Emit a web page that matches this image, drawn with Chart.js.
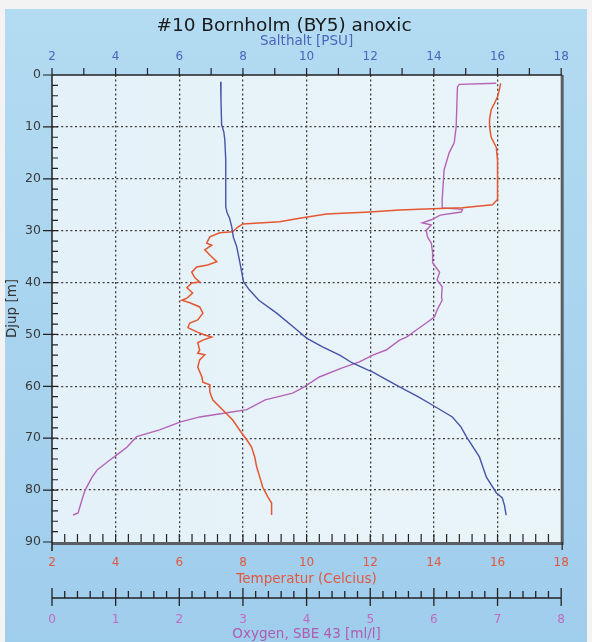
<!DOCTYPE html>
<html>
<head>
<meta charset="utf-8">
<script src="https://cdn.jsdelivr.net/npm/chart.js@4"></script>
<style>
html,body{margin:0;padding:0;background:#f3f3f3;}
#wrap{width:592px;height:642px;position:relative;}
</style>
</head>
<body>
<div id="wrap"><canvas id="c" width="592" height="642"></canvas></div>
<script>
// ---- data (depth in m) ----
const chartTitle = '#10 Bornholm (BY5) anoxic';
const salinityTicks = [2,4,6,8,10,12,14,16,18];
const temperatureTicks = [2,4,6,8,10,12,14,16,18];
const oxygenTicks = [0,1,2,3,4,5,6,7,8];
const depthTicks = [0,10,20,30,40,50,60,70,80,90];

const salDepth = [1.3,5,9.6,11,12.5,16.4,22,25.4,26.5,27.6,29.3,31.3,33,36,39.9,41.4,43.4,45.9,49.1,50.7,52.4,54,55.5,56.8,57.2,58.5,60.1,62,63.6,65.9,67.8,69.7,73.6,77.5,80.5,81.5,83,84.8];
const salValue = [7.30,7.31,7.33,7.40,7.43,7.46,7.46,7.46,7.50,7.58,7.65,7.70,7.80,7.90,8.02,8.20,8.50,9.06,9.69,10.0,10.5,11.04,11.44,11.9,12.07,12.45,12.92,13.5,13.95,14.58,14.85,15.02,15.43,15.65,15.96,16.15,16.22,16.27];

const tempDepth = [1.6,3.0,4.2,5.5,6.7,8.5,10,12,13.9,16.4,20,24,25.0,25.6,25.8,26.0,26.4,26.8,27.6,28.3,28.7,29.3,30.2,30.4,31.2,32.4,32.8,33.7,34.7,36.0,36.6,37.0,38.0,39.1,39.9,40.1,41.0,42.0,43.0,43.4,43.9,44.7,45.9,47.2,47.8,48.7,49.5,50.1,50.5,51.1,51.6,53.0,53.6,53.9,54.9,56.3,58.2,59.2,59.7,61.1,62.6,64.5,66.5,69,70.3,71.7,73.6,75.5,77.5,79.4,81.3,82.5,84.8];
const tempValue = [16.1,16.05,16.0,15.9,15.8,15.75,15.75,15.8,15.96,16.0,16.0,16.0,15.84,14.9,13.95,12.92,11.98,10.63,9.78,9.15,8.0,7.84,7.68,7.27,6.96,6.86,7.02,6.8,6.96,7.18,6.89,6.55,6.39,6.49,6.64,6.39,6.24,6.42,6.24,6.08,6.33,6.64,6.74,6.58,6.33,6.27,6.55,6.8,7.02,6.74,6.58,6.64,6.58,6.8,6.64,6.58,6.71,6.74,6.96,6.96,7.05,7.36,7.68,7.96,8.12,8.27,8.37,8.43,8.53,8.62,8.78,8.9,8.9];

const oxyDepth = [1.6,1.8,2.3,10,13,15,18.3,24.1,25.6,25.9,26.4,27.0,27.9,28.5,28.9,29.9,31.2,32.4,34.3,36.2,37.2,38,39.5,40.8,42.8,43.4,45.3,46.6,47.8,49.1,50.5,51.1,53,54,55.3,56.5,58.2,60.2,61.3,62.6,64.5,65.1,65.9,66.9,68.4,69.7,71.7,73.2,74.2,76.1,77.5,80,81.9,84.4,84.8];
const oxyValue = [6.98,6.4,6.37,6.35,6.32,6.24,6.16,6.13,6.13,6.45,6.43,6.1,5.96,5.82,5.96,5.88,5.9,5.96,5.98,5.98,6.04,6.09,6.05,6.13,6.12,6.13,6.05,6.01,5.88,5.73,5.57,5.46,5.25,5.04,4.83,4.55,4.2,3.95,3.78,3.35,3.06,2.75,2.32,2.01,1.69,1.33,1.18,1.02,0.91,0.71,0.63,0.52,0.47,0.41,0.33];

// ---- styles ----
const FONT = "'DejaVu Sans', sans-serif";
const C_SAL = '#4753a6', C_TEMP = '#e4572f', C_OXY = '#b463b6';
const T_SAL = '#4a66ba', T_TEMP = '#e2583e', T_OXY = '#c16ac2';

const pts = (ds, vs) => ds.map((d, i) => ({x: vs[i], y: d}));

const deco = {
  id: 'deco',
  beforeDraw(chart) {
    const {ctx, chartArea: a, width, height} = chart;
    ctx.save();
    ctx.fillStyle = '#f3f3f3';
    ctx.fillRect(0, 0, width, height);
    const g = ctx.createLinearGradient(0, 9, 0, height);
    g.addColorStop(0, '#b3dbf2');
    g.addColorStop(1, '#9fcdec');
    ctx.fillStyle = g;
    ctx.fillRect(5, 9, 582, height - 9);
    const pg = ctx.createLinearGradient(a.left, 0, a.right, 0);
    pg.addColorStop(0, '#e4f1f8');
    pg.addColorStop(1, '#eaf5fa');
    ctx.fillStyle = pg;
    ctx.fillRect(a.left, a.top, a.right - a.left, a.bottom - a.top);
    ctx.restore();
  },
  afterDraw(chart) {
    const {ctx, chartArea: a, scales} = chart;
    const xS = scales.xS, xT = scales.xT, xO = scales.xO, y = scales.y;
    ctx.save();
    // frame: right and bottom heavy border
    ctx.strokeStyle = '#5a5f63';
    ctx.lineWidth = 3;
    ctx.beginPath();
    ctx.moveTo(a.right + 1, a.top);
    ctx.lineTo(a.right + 1, a.bottom + 1.5);
    ctx.lineTo(a.left, a.bottom + 1.5);
    ctx.stroke();
    ctx.strokeStyle = '#222';
    ctx.lineWidth = 1.5;
    ctx.beginPath();
    ctx.moveTo(a.left, a.top);
    ctx.lineTo(a.right + 1, a.top);
    ctx.moveTo(a.left, a.top);
    ctx.lineTo(a.left, a.bottom + 9);
    ctx.stroke();
    ctx.lineWidth = 1.2;
    ctx.beginPath();
    // top ticks (salinity), every 1
    for (let v = 2; v <= 18; v += 1) {
      const px = xS.getPixelForValue(v);
      ctx.moveTo(px, a.top - 7); ctx.lineTo(px, a.top);
    }
    // left ticks (depth), every 2, inward; majors outward
    for (let d = 0; d <= 90; d += 2) {
      const py = y.getPixelForValue(d);
      if (d > 0 && d < 90) { ctx.moveTo(a.left, py); ctx.lineTo(a.left + 6, py); }
      if (d % 10 === 0) { ctx.moveTo(a.left - 9, py); ctx.lineTo(a.left, py); }
    }
    // bottom ticks (temperature), every 0.4, inward
    for (let k = 1; k < 40; k++) {
      const px = xT.getPixelForValue(2 + k * 0.4);
      ctx.moveTo(px, a.bottom); ctx.lineTo(px, a.bottom - 8);
    }
    const rx = xT.getPixelForValue(18);
    ctx.moveTo(rx + 1, a.bottom); ctx.lineTo(rx + 1, a.bottom + 8);
    ctx.stroke();
    // oxygen axis line with ticks
    const oy = 598;
    ctx.strokeStyle = '#222';
    ctx.lineWidth = 1.3;
    ctx.beginPath();
    ctx.moveTo(xO.getPixelForValue(0), oy);
    ctx.lineTo(xO.getPixelForValue(8), oy);
    for (let k = 0; k <= 40; k++) {
      const px = xO.getPixelForValue(k * 0.2);
      if (k % 5 === 0) { ctx.moveTo(px, oy - 10); ctx.lineTo(px, oy + 8); }
      else { ctx.moveTo(px, oy - 7); ctx.lineTo(px, oy); }
    }
    ctx.stroke();
    // main title
    ctx.fillStyle = '#1a1a1a';
    ctx.font = "18.5px " + FONT;
    ctx.textAlign = 'center';
    ctx.textBaseline = 'middle';
    ctx.fillText(chartTitle, 284, 26);
    ctx.restore();
  }
};

const gridColor = (edge) => (c) => (c.tick && (c.tick.value === edge[0] || c.tick.value === edge[1])) ? 'rgba(0,0,0,0)' : '#3c3c3c';

new Chart(document.getElementById('c'), {
  type: 'scatter',
  data: {
    datasets: [
      {label: 'Salthalt', xAxisID: 'xS', yAxisID: 'y', data: pts(salDepth, salValue), showLine: true, borderColor: C_SAL, borderWidth: 1.4, pointRadius: 0, tension: 0},
      {label: 'Temperatur', xAxisID: 'xT', yAxisID: 'y', data: pts(tempDepth, tempValue), showLine: true, borderColor: C_TEMP, borderWidth: 1.5, pointRadius: 0, tension: 0},
      {label: 'Oxygen', xAxisID: 'xO', yAxisID: 'y', data: pts(oxyDepth, oxyValue), showLine: true, borderColor: C_OXY, borderWidth: 1.4, pointRadius: 0, tension: 0}
    ]
  },
  options: {
    responsive: false,
    animation: false,
    devicePixelRatio: 1,
    layout: {padding: {left: 0, right: 29, top: 0, bottom: 0}},
    plugins: {legend: {display: false}, title: {display: false}, tooltip: {enabled: false}},
    scales: {
      xS: {
        type: 'linear', position: 'top', min: 2, max: 18, weight: 0,
        afterBuildTicks: (s) => { s.ticks = salinityTicks.map(v => ({value: v})); },
        afterFit: (s) => { s.height = 75; },
        grid: {display: false, drawTicks: false},
        border: {display: false},
        ticks: {color: T_SAL, font: {family: FONT, size: 12, lineHeight: 1}, padding: 12, maxRotation: 0, autoSkip: false},
        title: {display: true, text: 'Salthalt [PSU]', color: T_SAL, font: {family: FONT, size: 13.5, lineHeight: 1}, padding: {top: 35, bottom: 0}}
      },
      xT: {
        type: 'linear', position: 'bottom', min: 2, max: 18, weight: 1,
        afterBuildTicks: (s) => { s.ticks = temperatureTicks.map(v => ({value: v})); },
        afterFit: (s) => { s.height = 45; },
        grid: {display: true, drawTicks: false, color: gridColor([2, 18]), lineWidth: 1.3},
        border: {display: false, dash: [2, 2.6]},
        ticks: {color: T_TEMP, font: {family: FONT, size: 12, lineHeight: 1}, padding: 15, maxRotation: 0, autoSkip: false},
        title: {display: true, text: 'Temperatur (Celcius)', color: T_TEMP, font: {family: FONT, size: 13.5, lineHeight: 1}, padding: {top: 0, bottom: 1}}
      },
      xO: {
        type: 'linear', position: 'bottom', min: 0, max: 8, weight: 2,
        afterBuildTicks: (s) => { s.ticks = oxygenTicks.map(v => ({value: v})); },
        afterFit: (s) => { s.height = 55; },
        grid: {display: false, drawTicks: false},
        border: {display: false},
        ticks: {color: T_OXY, font: {family: FONT, size: 12, lineHeight: 1}, padding: 27, maxRotation: 0, autoSkip: false},
        title: {display: true, text: 'Oxygen, SBE 43 [ml/l]', color: '#b05cb1', font: {family: FONT, size: 13.5, lineHeight: 1}, padding: {top: 0, bottom: 1}}
      },
      y: {
        type: 'linear', position: 'left', min: 0, max: 90, reverse: true,
        afterBuildTicks: (s) => { s.ticks = depthTicks.map(v => ({value: v})); },
        afterFit: (s) => { s.width = 52; },
        grid: {display: true, drawTicks: false, color: gridColor([0, 90]), lineWidth: 1.3},
        border: {display: false, dash: [2, 2.6]},
        ticks: {color: '#3a3a3a', font: {family: FONT, size: 12.5, lineHeight: 1}, padding: 11, autoSkip: false},
        title: {display: true, text: 'Djup [m]', color: '#333', font: {family: FONT, size: 13.5, lineHeight: 1}, padding: {top: 6, bottom: 0}}
      }
    }
  },
  plugins: [deco]
});
</script>
</body>
</html>
